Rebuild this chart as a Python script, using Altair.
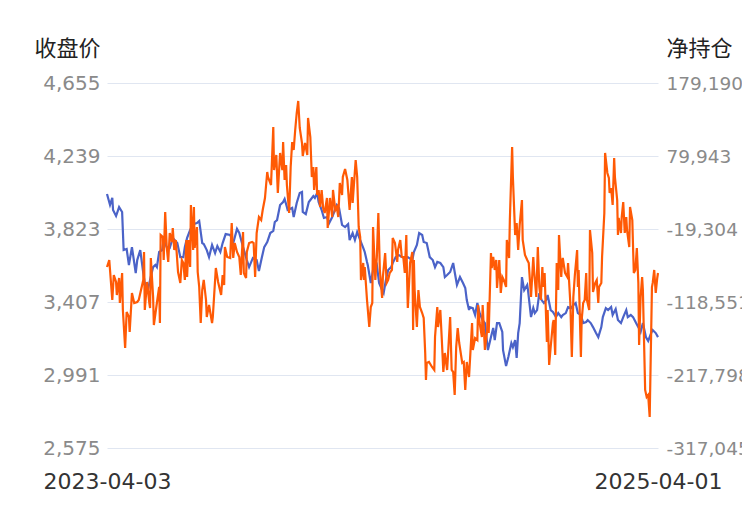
import altair as alt
import pandas as pd

# 收盘价 series: day offsets from 2023-04-03 and close price
blue_days = [0,4,7,8,12,16,20,22,26,29,33,38,40,44,48,50,54,57,61,64,66,69,73,75,79,83,87,93,97,101,103,106,110,114,119,122,126,128,132,135,139,143,146,150,153,157,163,167,172,175,180,185,188,193,198,201,205,208,212,216,220,222,225,229,233,235,238,239,245,247,251,255,258,259,263,267,273,275,278,280,284,287,291,294,298,300,304,307,311,315,319,321,325,328,331,335,339,341,344,345,349,352,357,360,364,366,369,372,376,378,382,386,390,394,398,404,406,410,413,417,419,423,427,431,434,437,441,445,447,450,454,458,460,463,467,471,474,476,479,480,484,487,490,493,497,500,504,508,511,513,516,519,523,524,528,531,535,537,540,542,544,546,549,552,556,557,561,564,566,569,572,575,578,581,583,587,590,594,597,601,603,607,610,614,617,620,623,627,630,634,636,640,643,647,650,654,656,660,663,667,669,673,676,680,683,687,689,693,696,700,703,706,709,713,716,720,722,726,729]
blue_price = [4022,3960,4000,3931,3897,3948,3920,3703,3709,3618,3720,3572,3646,3703,3572,3515,3475,3532,3606,3618,3606,3692,3703,3760,3720,3715,3772,3743,3663,3663,3720,3772,3817,3851,3857,3869,3743,3737,3703,3663,3732,3686,3726,3692,3743,3794,3789,3743,3823,3800,3720,3646,3606,3658,3646,3584,3663,3720,3749,3800,3812,3863,3874,3960,3977,3994,3948,3931,3943,3891,3971,4028,4034,3920,3908,3977,4011,4000,4028,3977,3931,3886,3891,3857,3891,3914,3960,3943,3846,3834,3851,3760,3800,3760,3806,3760,3715,3692,3635,3618,3515,3589,3618,3515,3475,3458,3532,3589,3606,3629,3663,3675,3663,3658,3663,3646,3692,3732,3800,3789,3749,3743,3663,3646,3606,3635,3629,3606,3549,3561,3578,3629,3578,3504,3549,3515,3487,3418,3361,3378,3372,3333,3401,3344,3304,3287,3133,3207,3259,3190,3287,3287,3236,3133,3042,3093,3173,3150,3190,3088,3230,3287,3549,3475,3504,3475,3321,3373,3344,3361,3458,3418,3401,3418,3447,3361,3350,3321,3344,3321,3333,3344,3378,3372,3390,3401,3344,3333,3287,3293,3304,3287,3264,3230,3207,3264,3321,3372,3361,3378,3333,3367,3304,3287,3321,3361,3321,3333,3321,3287,3264,3236,3287,3207,3185,3230,3247,3230,3207]

# 净持仓 series: day offsets from 2023-04-03 and net position
orange_days = [0,3,7,9,12,13,16,17,20,21,24,26,29,30,33,36,40,42,45,48,49,50,53,56,57,58,61,62,66,69,70,71,74,75,77,79,81,83,86,87,89,91,94,97,99,101,103,105,106,108,110,111,114,115,116,119,120,122,124,126,128,131,132,135,139,140,144,147,151,153,155,156,159,163,165,167,169,172,175,177,180,181,184,185,188,192,194,196,198,201,204,206,209,212,213,217,220,221,224,226,229,232,233,235,237,238,241,243,245,247,249,251,253,255,258,259,262,265,266,269,271,273,274,277,278,280,282,284,286,288,291,292,295,298,299,302,304,306,308,311,312,315,318,319,321,324,325,329,331,333,335,336,339,340,341,344,347,349,351,352,355,357,359,361,364,365,368,370,372,374,377,378,381,384,385,388,390,392,394,396,397,398,401,404,405,406,407,410,412,414,417,419,421,422,423,426,430,433,434,437,438,441,443,445,447,450,451,454,456,458,460,462,464,466,470,472,474,476,479,483,484,487,490,491,493,496,497,500,503,504,505,508,509,511,513,515,516,519,521,523,525,528,529,532,533,536,537,540,542,544,546,549,550,553,556,558,561,564,565,568,570,572,574,576,577,579,582,583,585,587,590,591,593,595,597,598,601,602,603,606,609,610,613,615,617,619,622,623,624,627,628,630,632,634,635,638,639,642,643,646,648,650,651,654,655,658,659,662,664,665,667,669,671,672,675,676,677,680,681,683,685,687,688,691,692,695,696,697,699,701,703,704,706,708,709,712,714,716,718,721,722,724,726,728,729]
orange_net = [-70958,-61442,-115822,-81834,-91351,-109024,-85913,-119900,-79115,-129417,-181078,-132136,-138933,-159326,-106305,-119900,-118541,-115822,-102227,-88632,-50566,-129417,-91351,-119900,-126698,-58723,-111743,-149809,-119900,-98148,-147090,-27454,-30173,-61442,3814,-43768,-64161,-24735,-36971,-17938,-47847,-34252,-77756,-92710,-61442,-65520,-88632,-34252,-84553,-34252,-70958,13331,-47847,10612,-45128,-16578,-77756,-98148,-147090,-102227,-88632,-115822,-138933,-122619,-147090,-138933,-72318,-91351,-109024,-81834,-95429,-43768,-57363,-58723,-11140,-58723,-38330,-50566,-57363,-81834,-23376,-79115,-85913,-50566,-38330,-36971,-38330,-84553,-24735,-2983,-7062,6533,22847,58194,51397,40521,119372,60913,81306,29645,84025,60913,98979,47318,67711,40521,2455,64992,98979,88103,115293,138405,154719,118012,97620,79946,97620,81306,131607,105777,51397,64992,33723,64992,26926,33723,10612,33723,9252,2455,22847,-17938,22847,-2983,33723,6533,10612,-2983,43240,26926,51397,62273,47318,33723,6533,51397,16050,74508,51397,-16578,-30173,-88632,-65520,-88632,-70958,-115822,-152528,-125338,-119900,-16578,-88632,-57363,2455,-75037,-113103,-84553,-51925,-92710,-88632,-79115,-75037,-31533,-38330,-64161,-47847,-34252,-57363,-57363,-79115,-27454,-84553,-126698,-65520,-50566,-156607,-61442,-102227,-152528,-102227,-125338,-133495,-140293,-187875,-224582,-201470,-200111,-206908,-210987,-166123,-125338,-152528,-129417,-170202,-213706,-187875,-210987,-193313,-138933,-210987,-213706,-244974,-179718,-153888,-174280,-201470,-200111,-238177,-200111,-220503,-147090,-183797,-167483,-170202,-122619,-147090,-166123,-122619,-183797,-156607,-118541,-160685,-51925,-72318,-57363,-75037,-61442,-99508,-61442,-106305,-84553,-88632,-98148,-34252,-58723,-7062,92182,51397,-27454,-11140,-47847,-13859,20128,-34252,-54644,-61442,-65520,-111743,-57363,-75037,-111743,-43768,-98148,-115822,-70958,-98148,-79115,-172921,-129417,-204189,-179718,-147090,-143012,-190594,-65520,-102227,-27454,-84553,-65520,-58723,-79115,-84553,-65520,-119900,-193313,-111743,-81834,-47847,-98148,-75037,-193313,-143012,-119900,-115822,-79115,-115822,-129417,-20657,-51925,-104946,-92710,-88632,-119900,-98148,-92710,-57363,2455,84025,56835,50037,29645,36442,13331,77227,51397,20128,-27454,-4343,-24735,-2983,17409,-24735,-2983,-20657,-43768,10612,-7062,-43768,-79115,-75037,-45128,-92710,-176999,-111743,-84553,-102227,-238177,-247693,-244974,-274883,-98148,-92710,-75037,-106305,-85913,-79115]

left_ticks = [2575, 2991, 3407, 3823, 4239, 4655]
right_ticks = [-317045, -217798, -118551, -19304, 79943, 179190]
start_date = "2023-04-03"
end_date = "2025-04-01"

start = pd.Timestamp(start_date)
blue_df = pd.DataFrame({
    "date": [start + pd.Timedelta(days=d) for d in blue_days],
    "price": blue_price,
})
orange_df = pd.DataFrame({
    "date": [start + pd.Timedelta(days=d) for d in orange_days],
    "net": orange_net,
})

x_start = alt.DateTime(year=2023, month=4, date=3)
x_end = alt.DateTime(year=2025, month=4, date=1)

label_expr = "replace(format(datum.value, ',.0f'), '\u2212', '-')"

x_enc = alt.X(
    "date:T",
    scale=alt.Scale(domain=[x_start, x_end]),
    axis=alt.Axis(
        values=[x_start, x_end], format="%Y-%m-%d", labelFlush=False,
        labelAlign="center", labelFontSize=22, labelColor="#333333",
        labelFont="DejaVu Sans", labelPadding=23, ticks=False, domain=False,
        grid=False, title=None,
    ),
)

blue = alt.Chart(blue_df).mark_line(color="#4b63c8", strokeWidth=2.2).encode(
    x=x_enc,
    y=alt.Y(
        "price:Q",
        scale=alt.Scale(domain=[2575, 4655], nice=False, zero=False),
        axis=alt.Axis(
            values=left_ticks, labelExpr=label_expr, orient="left", title="收盘价",
            titleAngle=0, titleX=-40, titleY=-28, titleAlign="center",
            titleBaseline="alphabetic", titleFontSize=22,
            titleFont="Noto Sans CJK SC", titleFontWeight="normal",
            titleColor="#222222", labelFontSize=20, labelColor="#8a8a8a",
            labelFont="DejaVu Sans", labelPadding=7, ticks=False,
            domain=False, grid=True, gridColor="#e0e6f1",
        ),
    ),
)

orange = alt.Chart(orange_df).mark_line(color="#ff5a05", strokeWidth=2.2).encode(
    x=x_enc,
    y=alt.Y(
        "net:Q",
        scale=alt.Scale(domain=[-317045, 179190], nice=False, zero=False),
        axis=alt.Axis(
            values=right_ticks, labelExpr=label_expr, orient="right", title="净持仓",
            titleAngle=0, titleX=41, titleY=-28, titleAlign="center",
            titleBaseline="alphabetic", titleFontSize=22,
            titleFont="Noto Sans CJK SC", titleFontWeight="normal",
            titleColor="#222222", labelFontSize=18.5, labelColor="#8a8a8a",
            labelFont="DejaVu Sans", labelPadding=8, ticks=False,
            domain=False, grid=False,
        ),
    ),
)

chart = alt.layer(blue, orange).resolve_scale(y="independent").properties(
    width=551, height=365,
    padding={"left": 99, "top": 75, "right": 84, "bottom": 54},
    autosize=alt.AutoSizeParams(type="none"),
).configure_view(stroke=None)

chart.save("out.html", embed_options={"renderer": "svg", "actions": False})
